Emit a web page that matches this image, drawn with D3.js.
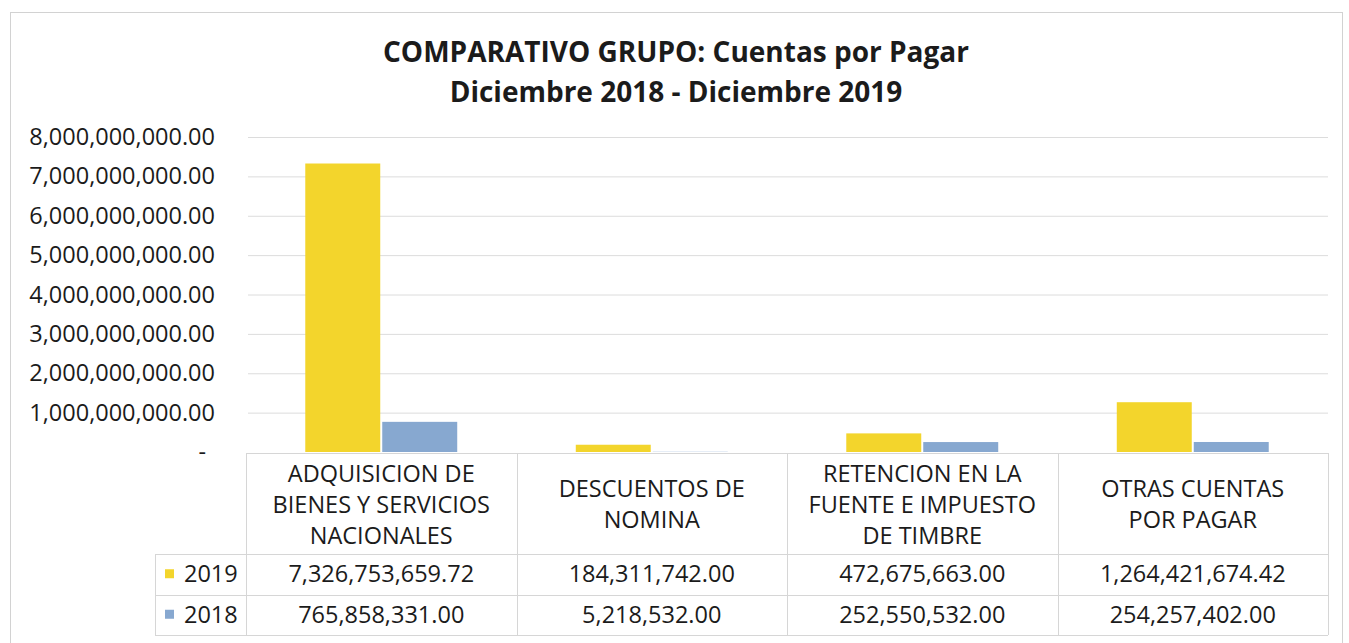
<!DOCTYPE html>
<html lang="es">
  <head>
    <meta charset="UTF-8" />
    <title>Cuentas por Pagar</title>
    <script src="https://d3js.org/d3.v7.min.js"></script>
    <style>
      body {
        margin: 0;
        background: #ffffff;
      }
      text {
        font-family: 'Open Sans', 'Noto Sans', sans-serif;
        fill: #1b1b1b;
      }
    </style>
  </head>
  <body>
    <div id="chart"></div>

    <script>
      // data
      const categories = [
        ['ADQUISICION DE', 'BIENES Y SERVICIOS', 'NACIONALES'],
        ['DESCUENTOS DE', 'NOMINA'],
        ['RETENCION EN LA', 'FUENTE E IMPUESTO', 'DE TIMBRE'],
        ['OTRAS CUENTAS', 'POR PAGAR'],
      ];
      const seriesNames = ['2019', '2018'];
      const values2019 = [7326753659.72, 184311742.0, 472675663.0, 1264421674.42];
      const values2018 = [765858331.0, 5218532.0, 252550532.0, 254257402.0];
      const yTicks = [0, 1e9, 2e9, 3e9, 4e9, 5e9, 6e9, 7e9, 8e9];
      const colors = ['#f3d52c', '#87a8d0'];

      const W = 1349;
      const H = 643;

      const svg = d3
        .select('#chart')
        .append('svg')
        .attr('width', W)
        .attr('height', H);

      // chart frame
      svg
        .append('rect')
        .attr('x', 10.5)
        .attr('y', 12.5)
        .attr('width', 1332)
        .attr('height', 640)
        .attr('fill', 'none')
        .attr('stroke', '#d2d2d2');

      // title
      const title = svg
        .append('text')
        .attr('text-anchor', 'middle')
        .style('font-weight', 'bold')
        .style('font-size', '28px');
      title.append('tspan').attr('x', 676).attr('y', 62).text('COMPARATIVO GRUPO: Cuentas por Pagar');
      title.append('tspan').attr('x', 676).attr('y', 102).text('Diciembre 2018 - Diciembre 2019');

      const plotLeft = 246;
      const plotRight = 1328;

      const x0 = d3
        .scaleBand()
        .domain(d3.range(categories.length))
        .range([plotLeft, plotRight]);

      const x1 = d3
        .scaleBand()
        .domain(seriesNames)
        .range([0, x0.bandwidth()])
        .paddingInner(0.026)
        .paddingOuter(0.77);

      const y = d3.scaleLinear().domain([0, 8e9]).range([452, 137]);

      // gridlines
      svg
        .append('g')
        .selectAll('line')
        .data(yTicks.slice(1))
        .enter()
        .append('line')
        .attr('x1', plotLeft + 2)
        .attr('x2', plotRight)
        .attr('y1', (d) => y(d) + 0.5)
        .attr('y2', (d) => y(d) + 0.5)
        .attr('stroke', '#dcdcdc')
        .attr('stroke-width', 1);

      // y axis labels
      const fmt = d3.format(',.2f');
      const yAxis = svg
        .append('g')
        .attr('transform', 'translate(215,0)')
        .call(
          d3
            .axisLeft(y)
            .tickValues(yTicks)
            .tickSize(0)
            .tickPadding(0)
            .tickFormat((d) => (d === 0 ? '-' : fmt(d))),
        );
      yAxis.select('.domain').remove();
      yAxis
        .selectAll('text')
        .style('font-size', '23.5px')
        .style('font-family', "'Open Sans', 'Noto Sans', sans-serif")
        .attr('fill', '#1b1b1b')
        .attr('dx', (d) => (d === 0 ? -9 : 0));

      // bars
      const rows = [values2019, values2018];
      const barData = [];
      categories.forEach((c, i) => {
        seriesNames.forEach((s, j) => {
          barData.push({ cat: i, series: s, idx: j, value: rows[j][i] });
        });
      });

      svg
        .append('g')
        .selectAll('rect')
        .data(barData)
        .enter()
        .append('rect')
        .attr('x', (d) => x0(d.cat) + x1(d.series))
        .attr('width', x1.bandwidth())
        .attr('y', (d) => y(d.value))
        .attr('height', (d) => y(0) - y(d.value))
        .attr('fill', (d) => colors[d.idx]);

      // data table
      const tTop = 453;
      const tHead = 554;
      const rowH = 40.5;
      const tBottom = tHead + rowH * 2;
      const legendLeft = 155;
      const grid = svg.append('g').attr('stroke', '#d6d6d6').attr('stroke-width', 1);

      grid.append('line').attr('x1', plotLeft).attr('x2', plotRight).attr('y1', tTop + 0.5).attr('y2', tTop + 0.5);
      [tHead, tHead + rowH, tBottom].forEach((yy) => {
        grid
          .append('line')
          .attr('x1', legendLeft)
          .attr('x2', plotRight)
          .attr('y1', Math.round(yy) + 0.5)
          .attr('y2', Math.round(yy) + 0.5);
      });
      grid
        .append('line')
        .attr('x1', legendLeft + 0.5)
        .attr('x2', legendLeft + 0.5)
        .attr('y1', tHead)
        .attr('y2', tBottom);
      d3.range(categories.length + 1).forEach((i) => {
        const xx = i < categories.length ? x0(i) : plotRight;
        grid
          .append('line')
          .attr('x1', Math.round(xx) + 0.5)
          .attr('x2', Math.round(xx) + 0.5)
          .attr('y1', tTop)
          .attr('y2', tBottom);
      });

      // category labels
      const lineH = 31;
      const headMid = (tTop + tHead) / 2 + 1;
      categories.forEach((lines, i) => {
        const cx = x0(i) + x0.bandwidth() / 2;
        lines.forEach((ln, k) => {
          svg
            .append('text')
            .attr('x', cx)
            .attr('y', headMid + (k - (lines.length - 1) / 2) * lineH)
            .attr('dy', '0.35em')
            .attr('text-anchor', 'middle')
            .style('font-size', '23.5px')
            .text(ln);
        });
      });

      // value rows with legend keys
      rows.forEach((vals, j) => {
        const cy = tHead + rowH * j + rowH / 2;
        svg
          .append('rect')
          .attr('x', 165)
          .attr('y', cy - 5)
          .attr('width', 9)
          .attr('height', 9)
          .attr('fill', colors[j]);
        svg
          .append('text')
          .attr('x', 184)
          .attr('y', cy)
          .attr('dy', '0.35em')
          .style('font-size', '23.5px')
          .text(seriesNames[j]);
        vals.forEach((v, i) => {
          svg
            .append('text')
            .attr('x', x0(i) + x0.bandwidth() / 2)
            .attr('y', cy)
            .attr('dy', '0.35em')
            .attr('text-anchor', 'middle')
            .style('font-size', '23.5px')
            .text(fmt(v));
        });
      });
    </script>
  </body>
</html>
